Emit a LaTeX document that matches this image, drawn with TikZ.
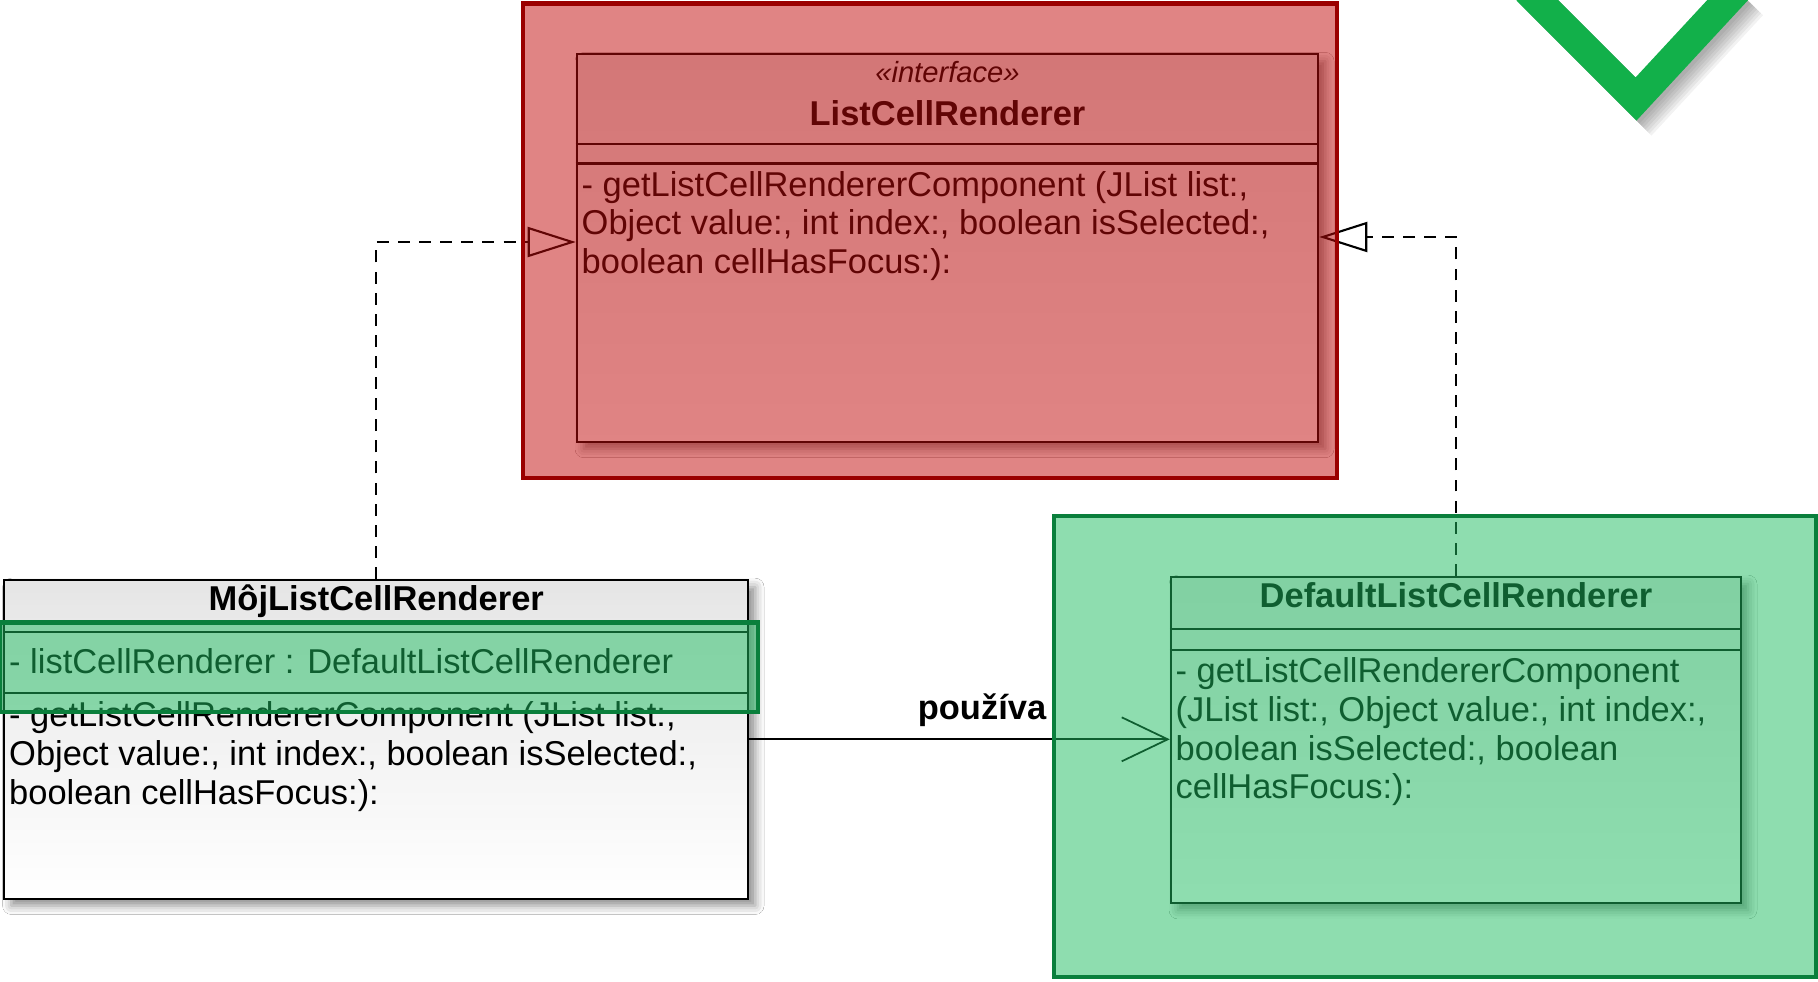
\documentclass[tikz,border=0pt]{standalone}
\usepackage{fontspec}
\setmainfont{Liberation Sans}
\usetikzlibrary{arrows.meta,shadows.blur,calc}

\definecolor{redveil}{rgb}{0.76,0.04,0.04}
\definecolor{redframe}{HTML}{9A0000}
\definecolor{greenveil}{rgb}{0.12,0.74,0.38}
\definecolor{greenframe}{HTML}{0A7F3C}
\definecolor{tickgreen}{HTML}{12B04A}

\newcommand{\umlfont}{\fontsize{9.8}{11}\selectfont}

\begin{document}
\begin{tikzpicture}[x=0.01cm, y=-0.01cm,
  umlclass/.style={draw=black, line width=0.6pt, top color=black!10, bottom color=white,
    inner sep=0pt, blur shadow={shadow xshift=2pt, shadow yshift=-2pt, shadow blur radius=2.5pt, shadow opacity=45}},
  classline/.style={black, line width=0.6pt},
  classname/.style={font=\umlfont\bfseries, anchor=base, inner sep=0pt},
  member/.style={font=\umlfont, align=left, anchor=north west, inner sep=0pt},
  realize/.style={black, line width=0.6pt, dash pattern=on 3.4pt off 2.6pt,
    -{Triangle[open, length=0.48cm, width=0.3cm]}},
  uses/.style={black, line width=0.5pt, -{Straight Barb[length=0.46cm, width=0.44cm]}},
  veil/.style={fill opacity=0.5},
  frame/.style={line width=1.4pt}]
\clip (0,0) rectangle (1818,981);
\fill[white] (0,0) rectangle (1818,981);

% interface
\node[umlclass, minimum width=7.41cm, minimum height=3.875cm] (intf) at (947.5,248) {};
\node[classname, font=\fontsize{8.3}{10}\selectfont\itshape] (intfstereo) at (947.5,82) {«interface»};
\node[classname] (intfname) at (947.5,125) {ListCellRenderer};
\draw[classline] (intf.west |- 0,144) -- (intf.east |- 0,144);
\draw[classline] (intf.west |- 0,163.5) -- (intf.east |- 0,163.5);
\node[member] (intfops) at (581,170.5) {- getListCellRendererComponent (JList list:,\\
  Object value:, int index:, boolean isSelected:,\\ boolean cellHasFocus:):};

% own renderer
\node[umlclass, minimum width=7.434cm, minimum height=3.185cm] (moj) at (376.3,739.3) {};
\node[classname] (mojname) at (376.3,610) {MôjListCellRenderer};
\draw[classline] (moj.west |- 0,632) -- (moj.east |- 0,632);
\draw[classline] (moj.west |- 0,693) -- (moj.east |- 0,693);
\node[member] (mojattr) at (8.5,648) {- listCellRenderer : DefaultListCellRenderer};
\node[member] (mojops) at (8.5,701) {- getListCellRendererComponent (JList list:,\\
  Object value:, int index:, boolean isSelected:,\\ boolean cellHasFocus:):};

% default renderer
\node[umlclass, minimum width=5.7cm, minimum height=3.26cm] (dflt) at (1456,740) {};
\node[classname] (dfltname) at (1456,607) {DefaultListCellRenderer};
\draw[classline] (dflt.west |- 0,629) -- (dflt.east |- 0,629);
\draw[classline] (dflt.west |- 0,650) -- (dflt.east |- 0,650);
\node[member] (dfltops) at (1175,657) {- getListCellRendererComponent\\
  (JList list:, Object value:, int index:,\\ boolean isSelected:, boolean\\ cellHasFocus:):};

% relations
\draw[realize] (moj.north) |- ($(intf.west)+(0,-6)$);
\draw[realize] (dflt.north) |- ($(intf.east)+(0,-11)$);
\draw[uses] (moj.east) -- (moj.east -| dflt.west);
\node[classname] (usesname) at (982,719) {používa};

% highlights
\fill[redveil, veil] (523,3.5) rectangle (1337,478);
\draw[redframe, frame] (523,3.5) rectangle (1337,478);
\fill[greenveil, veil] (1054,516) rectangle (1816,977);
\draw[greenframe, frame] (1054,516) rectangle (1816,977);
\fill[greenveil, veil] (0,622.5) rectangle (758,712);
\draw[greenframe, frame] (0,622.5) rectangle (758,712);

% tick with a soft shadow
\foreach \o in {3,5,...,15} {
  \draw[black, opacity=0.05, line width=0.3cm, miter limit=4, shift={(\o,\o)}]
    (1527,-10) -- (1636,99) -- (1737,-10);
}
\draw[tickgreen, line width=0.3cm, miter limit=4] (1527,-10) -- (1636,99) -- (1737,-10);
\end{tikzpicture}
\end{document}
